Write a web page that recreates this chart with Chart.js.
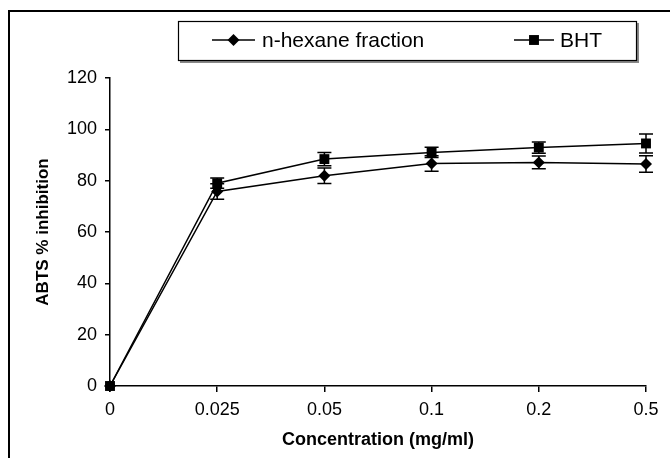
<!DOCTYPE html>
<html><head><meta charset="utf-8">
<script src="https://cdn.jsdelivr.net/npm/chart.js@4.4.0/dist/chart.umd.min.js"></script>
<style>html,body{margin:0;padding:0;background:#fff}#wrap{width:670px;height:458px;position:relative}</style>
</head><body><div id="wrap"><canvas id="c" width="670" height="458"></canvas></div>
<script>
const categories = ['0', '0.025', '0.05', '0.1', '0.2', '0.5'];
const hexaneValues = [0, 75.8, 81.9, 86.7, 87.1, 86.5];
const hexaneErrors = [0, 3, 3, 3, 2.5, 3.2];
const bhtValues = [0, 79.0, 88.4, 91.0, 92.9, 94.5];
const bhtErrors = [0, 2, 2.6, 2, 2.2, 3.7];
const yTicks = [0, 20, 40, 60, 80, 100, 120];
const seriesLabels = ['n-hexane fraction', 'BHT'];
const xTitle = 'Concentration (mg/ml)';
const yTitle = 'ABTS % inhibition';

const FONT = "'Liberation Sans', Arial, sans-serif";
const errorSets = [hexaneErrors, bhtErrors];

const framePlugin = {
  id: 'frame',
  beforeDraw(chart) {
    const ctx = chart.ctx;
    ctx.save();
    ctx.fillStyle = '#fff';
    ctx.fillRect(0, 0, chart.width, chart.height);
    ctx.strokeStyle = '#000';
    ctx.lineWidth = 2;
    ctx.beginPath();
    ctx.moveTo(9, chart.height);
    ctx.lineTo(9, 11);
    ctx.lineTo(chart.width, 11);
    ctx.stroke();
    ctx.restore();
  }
};

const errorBarPlugin = {
  id: 'errorBars',
  afterDatasetsDraw(chart) {
    const ctx = chart.ctx;
    const ys = chart.scales.y;
    ctx.save();
    ctx.strokeStyle = '#000';
    ctx.lineWidth = 1.5;
    chart.data.datasets.forEach((ds, di) => {
      const meta = chart.getDatasetMeta(di);
      const errs = errorSets[di];
      meta.data.forEach((pt, i) => {
        const e = errs[i];
        if (!e) return;
        const v = ds.data[i];
        const yt = ys.getPixelForValue(v + e);
        const yb = ys.getPixelForValue(v - e);
        const x = pt.x;
        ctx.beginPath();
        ctx.moveTo(x, yt); ctx.lineTo(x, yb);
        ctx.moveTo(x - 7, yt); ctx.lineTo(x + 7, yt);
        ctx.moveTo(x - 7, yb); ctx.lineTo(x + 7, yb);
        ctx.stroke();
      });
    });
    ctx.restore();
  }
};

function marker(ctx, style, x, y, r) {
  ctx.beginPath();
  if (style === 'rectRot') {
    ctx.moveTo(x - r, y); ctx.lineTo(x, y - r); ctx.lineTo(x + r, y); ctx.lineTo(x, y + r);
  } else {
    const s = Math.SQRT1_2 * r;
    ctx.rect(x - s, y - s, 2 * s, 2 * s);
  }
  ctx.closePath();
  ctx.fill();
}

const legendPlugin = {
  id: 'boxLegend',
  afterDraw(chart) {
    const ctx = chart.ctx;
    ctx.save();
    ctx.fillStyle = '#888';
    ctx.fillRect(180, 61, 458, 2);
    ctx.fillRect(637, 23, 2, 40);
    ctx.fillStyle = '#fff';
    ctx.fillRect(178, 21, 459, 40);
    ctx.strokeStyle = '#000';
    ctx.lineWidth = 1.2;
    ctx.strokeRect(178.5, 21.5, 458, 39);
    const items = [
      { x0: 212, x1: 255, tx: 262 },
      { x0: 514, x1: 554, tx: 560 }
    ];
    chart.data.datasets.forEach((ds, i) => {
      const it = items[i];
      const y = 40;
      ctx.strokeStyle = '#000';
      ctx.lineWidth = 1.5;
      ctx.beginPath(); ctx.moveTo(it.x0, y); ctx.lineTo(it.x1, y); ctx.stroke();
      ctx.fillStyle = '#000';
      marker(ctx, ds.pointStyle, (it.x0 + it.x1) / 2, y, ds.pointRadius);
      ctx.font = '21px ' + FONT;
      ctx.textBaseline = 'middle';
      ctx.textAlign = 'left';
      ctx.fillText(ds.label, it.tx, y + 1);
    });
    ctx.restore();
  }
};

new Chart(document.getElementById('c'), {
  type: 'line',
  data: {
    labels: categories,
    datasets: [
      { label: seriesLabels[0], data: hexaneValues, borderColor: '#000', backgroundColor: '#000',
        borderWidth: 1.5, pointStyle: 'rectRot', pointRadius: 6, pointBackgroundColor: '#000',
        pointBorderWidth: 0, tension: 0, clip: false },
      { label: seriesLabels[1], data: bhtValues, borderColor: '#000', backgroundColor: '#000',
        borderWidth: 1.5, pointStyle: 'rect', pointRadius: 7, pointBackgroundColor: '#000',
        pointBorderWidth: 0, tension: 0, clip: false }
    ]
  },
  options: {
    responsive: false,
    animation: false,
    devicePixelRatio: 1,
    layout: { padding: { top: 78, right: 24, bottom: 0, left: 0 } },
    plugins: { legend: { display: false }, tooltip: { enabled: false } },
    scales: {
      x: {
        type: 'category',
        offset: false,
        grid: { display: true, drawOnChartArea: false, drawTicks: true, tickLength: 6, color: '#000', lineWidth: 1.5 },
        border: { display: true, color: '#000', width: 1.5 },
        ticks: { color: '#000', font: { family: FONT, size: 18 }, padding: 7, maxRotation: 0, autoSkip: false },
        title: { display: true, text: xTitle, color: '#000', font: { family: FONT, size: 18, weight: 'bold' }, padding: { top: 0, bottom: 7 } },
        afterFit(s) { s.height = 72; }
      },
      y: {
        min: 0, max: 120,
        afterBuildTicks(s) { s.ticks = yTicks.map(v => ({ value: v })); },
        grid: { display: true, drawOnChartArea: false, drawTicks: true, tickLength: 5, color: '#000', lineWidth: 1.5 },
        border: { display: true, color: '#000', width: 1.5 },
        ticks: { color: '#000', font: { family: FONT, size: 18 }, padding: 8 },
        title: { display: true, text: yTitle, color: '#000', font: { family: FONT, size: 17, weight: 'bold' }, padding: { top: 33, bottom: 0 } },
        afterFit(s) { s.width = 110; }
      }
    }
  },
  plugins: [framePlugin, errorBarPlugin, legendPlugin]
});
</script></body></html>
